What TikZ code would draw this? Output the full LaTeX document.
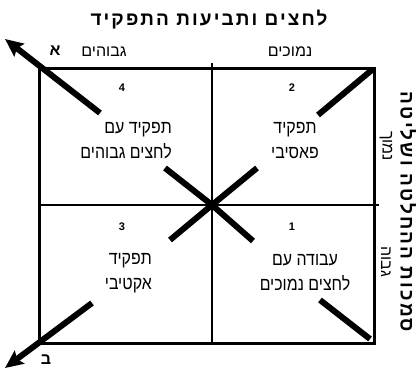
\documentclass[tikz,border=0pt]{standalone}
\usepackage{fontspec}
\usetikzlibrary{arrows.meta}
\newfontfamily\hebfont[Script=Hebrew]{Liberation Sans}
\newfontfamily\hebwide[Script=Hebrew, LetterSpace=11]{Liberation Sans}
\newfontfamily\hebnarrow[Script=Hebrew, FakeStretch=0.86]{Liberation Sans}
\TeXXeTstate=1
\newcommand{\heb}[1]{\beginR #1\endR}

\begin{document}
\begin{tikzpicture}[x=1pt,y=-1pt,
  title/.style={font={\hebwide\bfseries\fontsize{19}{21}\selectfont}, inner sep=0pt},
  lbl/.style={font={\hebfont\fontsize{16}{18}\selectfont}, inner sep=0pt},
  cell/.style={font={\hebnarrow\fontsize{18.5}{25}\selectfont}, inner sep=0pt},
  num/.style={font={\hebfont\bfseries\fontsize{11}{12}\selectfont}, inner sep=0pt},
  tipmark/.style={font={\hebfont\bfseries\fontsize{16}{17}\selectfont}, inner sep=0pt},
  frame/.style={line width=3pt, line cap=rect},
  midline/.style={line width=2.2pt},
  diag/.style={line width=6pt},
  diagarr/.style={line width=6pt, -{Stealth[length=18pt,width=16pt,inset=3pt]}}
]
\useasboundingbox (0,0) rectangle (420,370);

\coordinate (tl) at (39,68);
\coordinate (br) at (374,343);
\coordinate (c) at (212,205);
\coordinate (top) at (212,63);
\coordinate (bot) at (212,343);
\coordinate (left) at (39,205);
\coordinate (right) at (379,205);

\draw[frame] (tl) rectangle (br);
\draw[midline] (top) -- (bot);
\draw[midline] (left) -- (right);

\coordinate (a) at (5,39);
\coordinate (b) at (5,368);
\coordinate (ulo) at (100,113);
\coordinate (uli) at (165,168);
\coordinate (uro) at (318,115);
\coordinate (urc) at (373,69);
\coordinate (uri) at (257,168);
\coordinate (lli) at (170,240);
\coordinate (llo) at (92,303);
\coordinate (lri) at (253,241);
\coordinate (lro) at (320,300);
\coordinate (lrc) at (370,339);

\draw[diagarr] (ulo) -- (a);
\draw[diag] (uli) -- (c) -- (lri);
\draw[diag] (uri) -- (c) -- (lli);
\draw[diag] (urc) -- (uro);
\draw[diagarr] (llo) -- (b);
\draw[diag] (lro) -- (lrc);

\node[title] (head) at (209,20) {\heb{לחצים ותביעות התפקיד}};
\node[lbl] (high) at (104,52) {\heb{גבוהים}};
\node[lbl] (low) at (290,52) {\heb{נמוכים}};
\node[tipmark] (alef) at (55,51) {\heb{א}};
\node[tipmark] (bet) at (46,360) {\heb{ב}};

\node[num] (n4) at (122,88) {4};
\node[num] (n2) at (292,88) {2};
\node[num] (n3) at (122,227) {3};
\node[num] (n1) at (292,227) {1};

\node[cell, align=right, anchor=east] (q4) at (172,141) {\heb{תפקיד עם}\\ \heb{לחצים גבוהים}};
\node[cell, align=center] (q2) at (295,141) {\heb{תפקיד}\\ \heb{פאסיבי}};
\node[cell, align=right, anchor=east] (q3) at (152,273) {\heb{תפקיד}\\ \heb{אקטיבי}};
\node[cell, align=center] (q1) at (305,273) {\heb{עבודה עם}\\ \heb{לחצים נמוכים}};

\node[lbl, rotate=-90] (ctllow) at (386,146) {\heb{נמוך}};
\node[lbl, rotate=-90] (ctlhigh) at (386,262) {\heb{גבוה}};
\node[title, rotate=-90] (ctl) at (408,212) {\heb{סמכות ההחלטה ושליטה}};
\end{tikzpicture}
\end{document}
